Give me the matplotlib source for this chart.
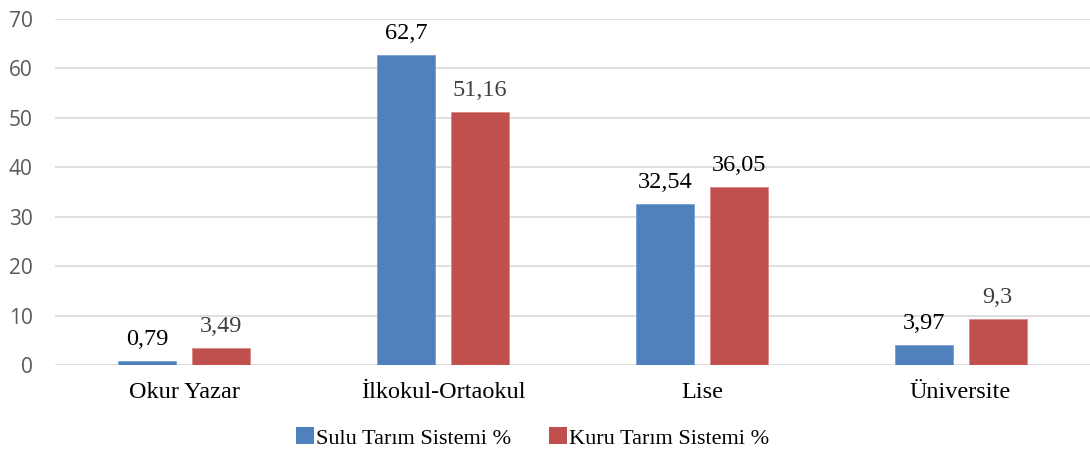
import matplotlib
matplotlib.use("Agg")
import matplotlib.pyplot as plt
import numpy as np
from matplotlib.patches import Patch

categories = ["Okur Yazar", "İlkokul-Ortaokul", "Lise", "Üniversite"]
sulu = [0.79, 62.7, 32.54, 3.97]
kuru = [3.49, 51.16, 36.05, 9.3]
sulu_labels = ["0,79", "62,7", "32,54", "3,97"]
kuru_labels = ["3,49", "51,16", "36,05", "9,3"]
series_names = ["Sulu Tarım Sistemi %", "Kuru Tarım Sistemi %"]
y_ticks = [0, 10, 20, 30, 40, 50, 60, 70]

blue = "#4F81BD"
red = "#C0504D"
serif = ["Liberation Serif", "DejaVu Serif"]
sans = ["Open Sans", "DejaVu Sans"]

fig = plt.figure(figsize=(10.9, 4.57), dpi=100)
ax = fig.add_axes([55 / 1090, 1 - 365 / 457, 1 - 55 / 1090, (365 - 19) / 457])

x = np.arange(len(categories))
w = 0.224
off = 0.143
ax.bar(x - off, sulu, w, color=blue, edgecolor="#7aa0d0", linewidth=0.6, zorder=3)
ax.bar(x + off, kuru, w, color=red, edgecolor="#d88a88", linewidth=0.6, zorder=3)

kuru_colors = ["#404040", "#404040", "#000000", "#404040"]
for xi, v, t in zip(x - off, sulu, sulu_labels):
    ax.annotate(t, (xi, v), xytext=(0, 8), textcoords="offset points",
                ha="center", va="bottom", fontsize=17.5, family=serif, color="#000000")
for xi, v, t, c in zip(x + off, kuru, kuru_labels, kuru_colors):
    ax.annotate(t, (xi, v), xytext=(0, 8), textcoords="offset points",
                ha="center", va="bottom", fontsize=17.5, family=serif, color=c)

ax.set_xlim(-0.5, len(categories) - 0.5)
ax.set_ylim(0, 70)
ax.set_yticks(y_ticks)
ax.set_yticklabels([str(t) for t in y_ticks], fontsize=15, family=sans, color="#595959")
ax.set_xticks(x)
ax.set_xticklabels(categories, fontsize=17.5, family=serif, color="#000000")
ax.tick_params(axis="both", length=0)
ax.tick_params(axis="y", pad=16)
ax.tick_params(axis="x", pad=12)
ax.yaxis.grid(True, color="#d9d9d9", linewidth=1.2, zorder=0)
ax.set_axisbelow(True)
for s in ax.spines.values():
    s.set_visible(False)

handles = [Patch(facecolor=blue, edgecolor="none"), Patch(facecolor=red, edgecolor="none")]
fig.legend(handles, series_names, loc="center", bbox_to_anchor=(533 / 1090, 1 - 438 / 457),
           ncol=2, frameon=False, prop={"family": serif, "size": 16},
           handlelength=0.8, handleheight=0.8, handletextpad=0.1, columnspacing=1.7)

fig.savefig("out.png", dpi=100)
